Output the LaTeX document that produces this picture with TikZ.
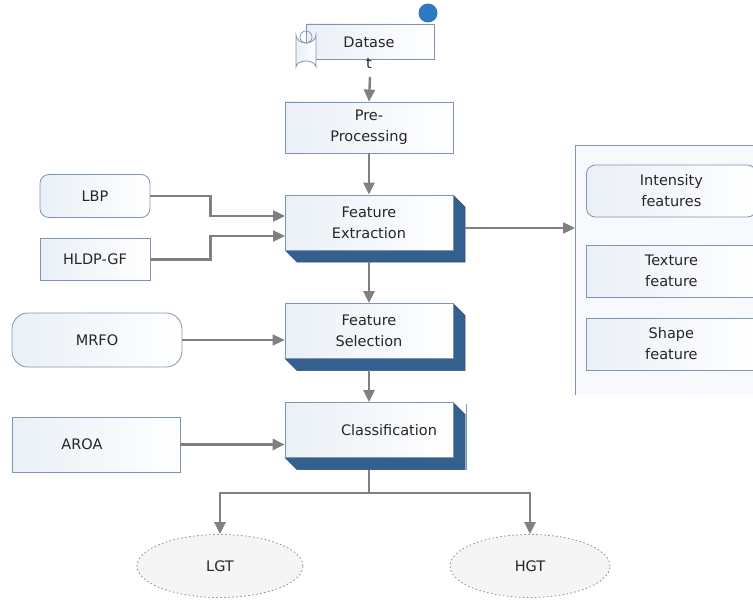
\documentclass[tikz,border=0pt]{standalone}
\usepackage{fontspec}
\setmainfont{DejaVu Sans}
\usetikzlibrary{arrows.meta,shapes.geometric}
\definecolor{edgeblue}{HTML}{7F96B2}
\definecolor{facelight}{HTML}{EAF0F7}
\definecolor{deepblue}{HTML}{33608E}
\definecolor{arrowgray}{HTML}{808080}
\definecolor{scrollblue}{HTML}{2F78C4}
\tikzset{
  txt/.style={font=\fontsize{14.5}{21}\selectfont, align=center, text=black!85},
  flatbox/.style={txt, draw=edgeblue, line width=0.8pt, left color=facelight, right color=white, inner sep=0pt},
  roundbox/.style={flatbox, rounded corners=9pt},
  facebox/.style={flatbox, minimum width=168pt, minimum height=55pt},
  oval/.style={txt, ellipse, draw=black!45, dash pattern=on 1.5pt off 2.5pt, line width=0.8pt, fill=black!4, minimum width=166pt, minimum height=63pt, inner sep=0pt},
  flow/.style={draw=arrowgray, line width=2.4pt, -{Triangle[length=12pt,width=11pt]}},
  thinflow/.style={flow, line width=1.6pt},
  depth/.style={fill=deepblue, draw=deepblue!80!black, line width=0.5pt},
}
\begin{document}
\begin{tikzpicture}[x=1pt,y=-1pt]
\useasboundingbox (0,0) rectangle (753,602);

% ---- Dataset scroll ----
\draw[edgeblue, line width=0.8pt, left color=facelight, right color=white]
  (306,24) rectangle (434,59);
\fill[scrollblue] (428,13) circle (9.5);
\draw[edgeblue, line width=0.8pt, left color=facelight, right color=white]
  (296,35) arc (180:0:10 and 8) -- (316,67) arc (0:-180:10 and 6) -- cycle;
\draw[edgeblue, line width=0.7pt] (306,37) circle (6);
\node[txt] (data) at (369,53) {Datase\\t};
\coordinate (dataout) at (370,77);

% ---- Pre-processing ----
\node[facebox, minimum height=51pt] (pre) at (369,127.5) {Pre-\\Processing};

% ---- 3D boxes ----
\foreach \cy in {222.5, 331, 430}{
  \fill[depth] (453,\cy-27.5) -- (465,\cy-15.5) -- (465,\cy+39.5)
     -- (297,\cy+39.5) -- (285,\cy+27.5) -- (453,\cy+27.5) -- cycle;
}
\node[facebox] (fe) at (369,222.5) {Feature\\Extraction};
\node[facebox] (fs) at (369,331) {Feature\\Selection};
\node[facebox] (cl) at (369,430) {\hspace*{40pt}Classification};
\draw[edgeblue, line width=0.6pt] (466,404) -- (466,470);

% ---- left inputs ----
\node[roundbox, minimum width=110pt, minimum height=43pt] (lbp) at (95,196) {LBP};
\node[flatbox, minimum width=110pt, minimum height=42pt] (hldp) at (95,259.5) {HLDP-GF};
\node[roundbox, rounded corners=16pt, minimum width=170pt, minimum height=54pt] (mrfo) at (97,340) {MRFO};
\node[flatbox, minimum width=168pt, minimum height=55pt] (aroa) at (96,444.5) {\hspace*{-28pt}AROA};

% ---- right panel ----
\fill[facelight!40] (575,145) rectangle (753,395);
\draw[edgeblue, line width=0.8pt] (575,395) -- (575,145) -- (753,145);
\node[roundbox, minimum width=170pt, minimum height=52pt, anchor=west] (inten) at (586,191) {Intensity\\features};
\node[flatbox, minimum width=170pt, minimum height=52pt, anchor=west] (tex) at (586,271) {Texture\\feature};
\node[flatbox, minimum width=170pt, minimum height=52pt, anchor=west] (shape) at (586,344) {Shape\\feature};
\coordinate (panel) at (575,228);

% ---- outputs ----
\node[oval] (lgt) at (220,566) {LGT};
\node[oval, minimum width=160pt] (hgt) at (530,566) {HGT};

% ---- connectors ----
\coordinate (feA) at (285,216);
\coordinate (feB) at (285,236);
\draw[flow] (dataout) -- (pre.north);
\draw[flow] (pre.south) -- (fe.north);
\draw[flow] (369,262) -- (fs.north);
\draw[flow] (369,370) -- (cl.north);
\draw[flow] (465,228) -- (panel);
\draw[flow] (lbp.east) -- ++(60,0) |- (feA);
\draw[flow] (hldp.east) -- ++(60,0) |- (feB);
\draw[thinflow] (mrfo.east) -- (fs.west |- mrfo.east);
\draw[flow, line width=3pt] (aroa.east) -- (cl.west |- aroa.east);
\coordinate (split) at (369,493);
\draw[draw=arrowgray, line width=2.4pt] (369,470) -- (split);
\draw[flow] (split) -| (lgt.north);
\draw[flow] (split) -| (hgt.north);
\end{tikzpicture}
\end{document}
